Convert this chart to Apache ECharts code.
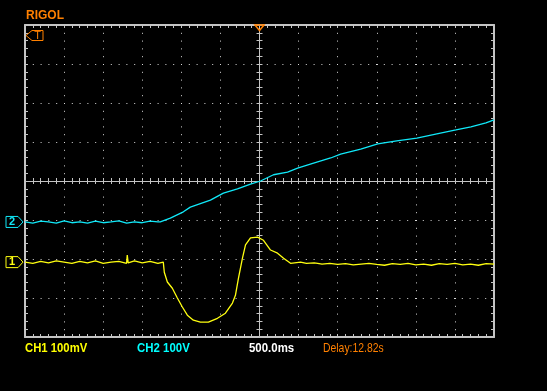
<!DOCTYPE html>
<html><head><meta charset="utf-8">
<script src="https://cdn.jsdelivr.net/npm/echarts@6/dist/echarts.min.js"></script>
<style>html,body{margin:0;padding:0;background:#000}#c{width:547px;height:391px}</style>
</head><body><div id="c"></div>
<script>
// Time in ms relative to trigger (500 ms/div), CH1 in mV (100 mV/div), CH2 in V (100 V/div)
const ch1Time = [-3000,-2900,-2800,-2700,-2600,-2500,-2400,-2300,-2200,-2100,-2000,-1900,-1800,-1700,-1692,-1680,-1600,-1500,-1400,-1300,-1231,
  -1218,-1179,-1115,-1051,-987,-923,-846,-756,-654,-538,-436,-346,-308,-269,-218,-179,-115,-26,51,141,231,308,397,526,
  600,700,744,800,900,1000,1100,1200,1300,1400,1500,1600,1700,1800,1900,2000,2100,2200,2300,2400,2500,2600,2700,2800,2900,3000];
const ch1mV = [0,-3,2,-2,3,0,-3,2,-2,3,-3,0,2,-3,18,-2,3,-2,2,-3,0,
  -26,-51,-67,-92,-115,-136,-149,-154,-154,-144,-131,-105,-85,-41,10,44,62,64,56,31,23,10,-3,0,
  -3,-2,-3,-5,-3,-6,-4,-7,-5,-3,-6,-8,-4,-6,-3,-7,-5,-8,-4,-6,-3,-7,-5,-8,-4,-5];
const ch2Time = [-3000,-2900,-2800,-2700,-2600,-2500,-2400,-2300,-2200,-2100,-2000,-1900,-1800,-1700,-1600,-1500,-1400,-1300,-1269,
  -1141,-974,-885,-628,-462,-282,-115,13,179,359,487,692,910,1038,1295,1513,1756,2013,2269,2513,2705,2897,3000];
const ch2V = [0,-3,2,0,-3,3,-2,0,-3,2,-2,0,3,-3,0,-2,2,0,0,
  10,26,38,56,74,85,97,105,121,128,138,151,164,174,187,200,208,215,226,236,244,254,262];
const ch1Scale = 100;      // mV per division
const ch2Scale = 100;      // V per division
const ch1OffsetDiv = -2.08;
const ch2OffsetDiv = -1.05;
const timeMin = -3000, timeMax = 3000, timeDiv = 500;
const vMin = -4, vMax = 4;
const brand = 'RIGOL';
const footer = [
  {text: 'CH1 100mV', color: '#ffff00', bold: true, x: 25, sx: 0.87},
  {text: 'CH2 100V', color: '#00ffff', bold: true, x: 137, sx: 0.88},
  {text: '500.0ms', color: '#ffffff', bold: true, x: 249, sx: 0.88},
  {text: 'Delay:12.82s', color: '#ff8000', bold: false, x: 323, sx: 0.8}
];

const GRAY = '#c4c4c4';
const ORANGE = '#ff8000';
const FONT = "'Liberation Sans',sans-serif";

function xAx(pos, offset, inside, lineW, showLine, split) {
  return {type:'value', gridIndex:0, min:timeMin, max:timeMax, interval:timeDiv, position:pos, offset:offset,
    axisLabel:{show:false},
    axisLine:{show:showLine, onZero:false, lineStyle:{color:GRAY, width:lineW}},
    axisTick:{show:true, inside:inside, length:3, lineStyle:{color:GRAY, width:1}},
    minorTick:{show:true, splitNumber:5, length:3, lineStyle:{color:GRAY, width:1}},
    splitLine:{show:split, lineStyle:{color:'#d8d8d8', width:1, type:[1,6.8]}}
  };
}
function yAx(pos, offset, inside, lineW, showLine, split) {
  return {type:'value', gridIndex:0, min:vMin, max:vMax, interval:1, position:pos, offset:offset,
    axisLabel:{show:false},
    axisLine:{show:showLine, onZero:false, lineStyle:{color:GRAY, width:lineW}},
    axisTick:{show:true, inside:inside, length:3, lineStyle:{color:GRAY, width:1}},
    minorTick:{show:true, splitNumber:5, length:3, lineStyle:{color:GRAY, width:1}},
    splitLine:{show:split, lineStyle:{color:'#d8d8d8', width:1, type:[1,6.8]}}
  };
}

const ch1Data = ch1Time.map((t,i)=>[t, ch1OffsetDiv + ch1mV[i]/ch1Scale]);
const ch2Data = ch2Time.map((t,i)=>[t, ch2OffsetDiv + ch2V[i]/ch2Scale]);

const chart = echarts.init(document.getElementById('c'), null, {renderer:'canvas'});
chart.setOption({
  backgroundColor:'#000',
  animation:false,
  grid:{left:25, top:25, width:469, height:312, outerBoundsMode:'none', containLabel:false},
  xAxis:[
    xAx('bottom', 0, true, 2, true, true),
    xAx('top', 0, true, 2, true, false),
    xAx('bottom', -156, true, 1, true, false),
    xAx('bottom', -156, false, 1, false, false)
  ],
  yAxis:[
    yAx('left', 0, true, 2, true, true),
    yAx('right', 0, true, 2, true, false),
    yAx('left', -234.5, true, 1, true, false),
    yAx('left', -234.5, false, 1, false, false)
  ],
  series:[
    {type:'line', name:'CH2', xAxisIndex:0, yAxisIndex:0, data:ch2Data, showSymbol:false, symbol:'none',
      lineStyle:{color:'#10e8f8', width:1.3}, z:5},
    {type:'line', name:'CH1', xAxisIndex:0, yAxisIndex:0, data:ch1Data, showSymbol:false, symbol:'none',
      lineStyle:{color:'#ffff10', width:1.3}, z:6}
  ]
});

const y1 = chart.convertToPixel({yAxisIndex:0}, ch1OffsetDiv);
const y2 = chart.convertToPixel({yAxisIndex:0}, ch2OffsetDiv);
const xTrig = chart.convertToPixel({xAxisIndex:0}, 0);
const yTop = chart.convertToPixel({yAxisIndex:0}, vMax);

function chMarker(y, label, color) {
  return [
    {type:'polygon', shape:{points:[[6,y-5.5],[18,y-5.5],[23,y],[18,y+5.5],[6,y+5.5]]},
      style:{fill:'none', stroke:color, lineWidth:1}, z:10},
    {type:'text', x:12, y:y, style:{text:label, fill:color, font:"bold 11px 'Liberation Sans',sans-serif", align:'center', verticalAlign:'middle'}, z:10}
  ];
}

const g = [
  {type:'text', x:26, y:9.5, style:{text:brand, fill:ORANGE, font:"bold 12px 'Liberation Sans',sans-serif", align:'left', verticalAlign:'top'}},
  {type:'polygon', shape:{points:[[26,35.5],[32,30.5],[43,30.5],[43,40.5],[32,40.5]]}, style:{fill:'none', stroke:ORANGE, lineWidth:1}, z:10},
  {type:'text', x:37.5, y:35.8, style:{text:'T', fill:ORANGE, font:"11px 'Liberation Sans',sans-serif", align:'center', verticalAlign:'middle'}, z:10},
  {type:'polygon', shape:{points:[[xTrig-4.5,yTop],[xTrig+4.5,yTop],[xTrig,yTop+5.5]]}, style:{fill:'none', stroke:ORANGE, lineWidth:1.5}, z:10}
].concat(chMarker(y2,'2','#10e8f8'), chMarker(y1,'1','#ffff10'));

footer.forEach(f=>{
  g.push({type:'text', x:f.x, y:341.5, scaleX:f.sx, style:{text:f.text, fill:f.color, font:(f.bold?'bold ':'')+'13px '+FONT, align:'left', verticalAlign:'top'}});
});

chart.setOption({graphic:g});
</script>
</body></html>
